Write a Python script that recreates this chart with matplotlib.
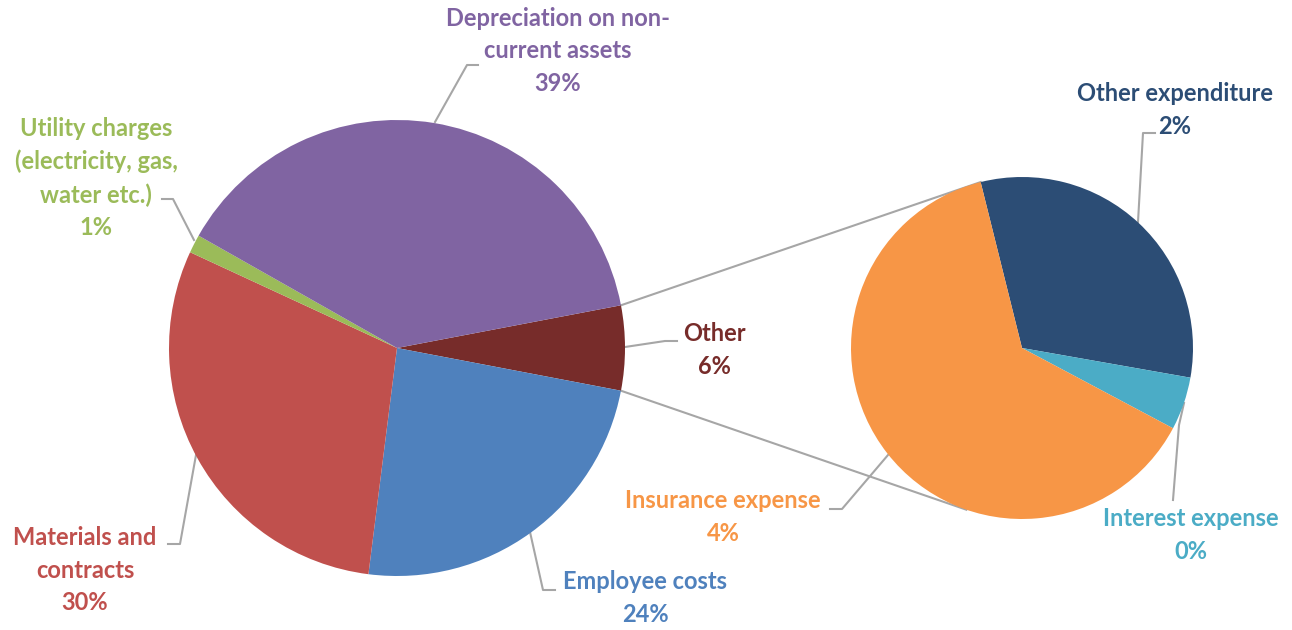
#!/usr/bin/env python3

import numpy as np
import matplotlib
matplotlib.use("Agg")
import matplotlib.pyplot as plt

# main pie, clockwise starting with the "Other" slice
main_labels = ["Other", "Employee costs", "Materials and\ncontracts",
               "Utility charges\n(electricity, gas,\nwater etc.)",
               "Depreciation on non-\ncurrent assets"]
main_colors = ["#772C2A", "#4F81BD", "#C0504D", "#9BBB59", "#8064A2"]
main_values = [None, 24.0, 29.9, 1.3, 38.8]

# breakdown of "Other" (second pie)
sub_labels = ["Other expenditure", "Interest expense", "Insurance expense"]
sub_colors = ["#2C4D75", "#4BACC6", "#F79646"]
sub_values = [1.9, 0.3, 3.8]

main_values[0] = sum(sub_values)
total = sum(main_values)

W, H = 1292, 630
fig = plt.figure(figsize=(W / 100, H / 100), dpi=100)
ax = fig.add_axes([0, 0, 1, 1])

def Y(y):  # picture rows -> data y
    return H - y

c1, r1 = (397, Y(348)), 228
c2, r2 = (1022, Y(348)), 171

half = 360 * main_values[0] / total / 2
ax.pie(main_values, colors=main_colors, startangle=half, counterclock=False,
       center=c1, radius=r1, frame=True, wedgeprops=dict(linewidth=0, zorder=2))
ax.pie(sub_values, colors=sub_colors, startangle=104, counterclock=False,
       center=c2, radius=r2, frame=True, wedgeprops=dict(linewidth=0, zorder=2))
ax.set_xlim(0, W)
ax.set_ylim(0, H)
ax.set_aspect("equal")
ax.axis("off")

# connectors between the two pies
grey = "#A6A6A6"
for a1, a2 in [(half, 104), (-half, -109)]:
    p1 = (c1[0] + r1 * np.cos(np.radians(a1)), c1[1] + r1 * np.sin(np.radians(a1)))
    p2 = (c2[0] + r2 * np.cos(np.radians(a2)), c2[1] + r2 * np.sin(np.radians(a2)))
    ax.plot([p1[0], p2[0]], [p1[1], p2[1]], color=grey, lw=1.5, zorder=1)

# label text position (centre, picture coords) and leader line points
label_layout = {
    "Other": ((714, 350), [(677, 341), (665, 341), (625, 347)]),
    "Employee costs": ((645, 598), [(555, 590), (543, 590), (530, 532)]),
    "Materials and\ncontracts": ((85, 570), [(168, 544), (180, 544), (196, 455)]),
    "Utility charges\n(electricity, gas,\nwater etc.)": ((96, 178), [(162, 199), (173, 199), (194, 240)]),
    "Depreciation on non-\ncurrent assets": ((558, 51), [(478, 65), (467, 65), (435, 122)]),
    "Other expenditure": ((1175, 110), [(1155, 133), (1143, 133), (1138, 222)]),
    "Interest expense": ((1191, 535), [(1173, 500), (1179, 425), (1184, 403)]),
    "Insurance expense": ((723, 517), [(830, 509), (842, 509), (888, 455)]),
}

font = ["Lato", "DejaVu Sans"]
items = list(zip(main_labels, main_values, main_colors)) + \
        list(zip(sub_labels, sub_values, sub_colors))
for lab, val, col in items:
    (tx, ty), pts = label_layout[lab]
    ax.text(tx, Y(ty), "%s\n%d%%" % (lab, round(val / total * 100)),
            ha="center", va="center", multialignment="center",
            color=col, fontsize=17, fontweight="bold", family=font,
            linespacing=1.5, zorder=5)
    ax.plot([p[0] for p in pts], [Y(p[1]) for p in pts], color=grey, lw=1.5, zorder=1)

fig.savefig("out.png", dpi=100)
